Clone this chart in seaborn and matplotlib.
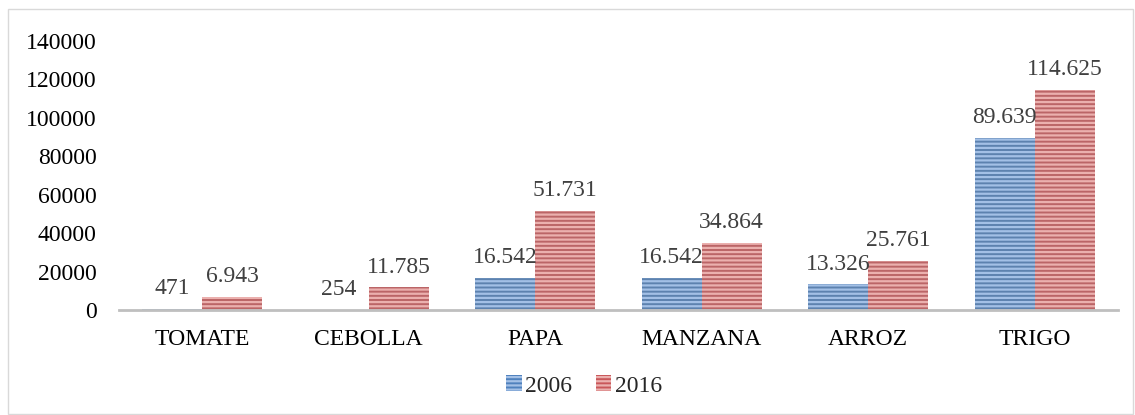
import matplotlib
matplotlib.use("Agg")
import matplotlib.pyplot as plt
import seaborn as sns
import pandas as pd
from matplotlib.patches import Rectangle

# Data
categorias = ["TOMATE", "CEBOLLA", "PAPA", "MANZANA", "ARROZ", "TRIGO"]
anios = ["2006", "2016"]
valores_2006 = [471, 254, 16542, 16542, 13326, 89639]
valores_2016 = [6943, 11785, 51731, 34864, 25761, 114625]
etiquetas_2006 = ["471", "254", "16.542", "16.542", "13.326", "89.639"]
etiquetas_2016 = ["6.943", "11.785", "51.731", "34.864", "25.761", "114.625"]

sns.set_style("white")
plt.rcParams['font.family'] = ['Liberation Serif', 'DejaVu Serif']
plt.rcParams['hatch.linewidth'] = 1.6

df = pd.DataFrame({
    'Producto': categorias * 2,
    'Año': [anios[0]] * len(categorias) + [anios[1]] * len(categorias),
    'Valor': valores_2006 + valores_2016,
})

colores = {"2006": "#4F81BD", "2016": "#C9575A"}
rayas = {"2006": "#A3C0E6", "2016": "#EBB0AE"}

fig = plt.figure(figsize=(11.35, 4.15), dpi=100)
ax = fig.add_axes([119 / 1135, (415 - 310) / 415, (1118 - 119) / 1135, (310 - 41) / 415])

sns.barplot(data=df, x='Producto', y='Valor', hue='Año', palette=colores,
            width=0.72, ax=ax, legend=False)

# Horizontal stripes on the bars
for cont, anio in zip(ax.containers, anios):
    for bar in cont:
        bar.set_hatch('----')
        bar.set_edgecolor(rayas[anio])
        bar.set_linewidth(0)

# Value labels
for cont, etiquetas in zip(ax.containers, [etiquetas_2006, etiquetas_2016]):
    for bar, txt in zip(cont, etiquetas):
        ax.annotate(txt, (bar.get_x() + bar.get_width() / 2, bar.get_height()),
                    xytext=(0, 7), textcoords='offset points',
                    ha='center', va='bottom', fontsize=17, color='#404040')

ax.set_ylim(0, 140000)
ax.set_yticks(range(0, 140001, 20000))
ax.set_xlim(-0.5, len(categorias) - 0.5)
ax.set_xlabel("")
ax.set_ylabel("")
ax.tick_params(axis='both', length=0, labelsize=17, colors='black')
ax.tick_params(axis='x', pad=14)
ax.tick_params(axis='y', pad=16)
for s in ['top', 'right', 'left']:
    ax.spines[s].set_visible(False)
ax.spines['bottom'].set_color('#BFBFBF')
ax.spines['bottom'].set_linewidth(2)

# Legend
handles = [Rectangle((0, 0), 1, 1, facecolor=colores[a], edgecolor=rayas[a],
                     hatch='----', linewidth=0) for a in anios]
fig.legend(handles, anios, loc='center', bbox_to_anchor=(584 / 1135, 1 - 386 / 415),
           ncol=2, frameon=False, fontsize=17, handlelength=0.65, handleheight=0.65,
           handletextpad=0.15, columnspacing=1.0)

# Outer border
fig.patches.append(Rectangle((8 / 1135, 0.002), 1 - 8 / 1135 - 0.002, 1 - 10 / 415,
                             transform=fig.transFigure, fill=False,
                             edgecolor='#D9D9D9', linewidth=1))

fig.savefig('out.png', dpi=100)
